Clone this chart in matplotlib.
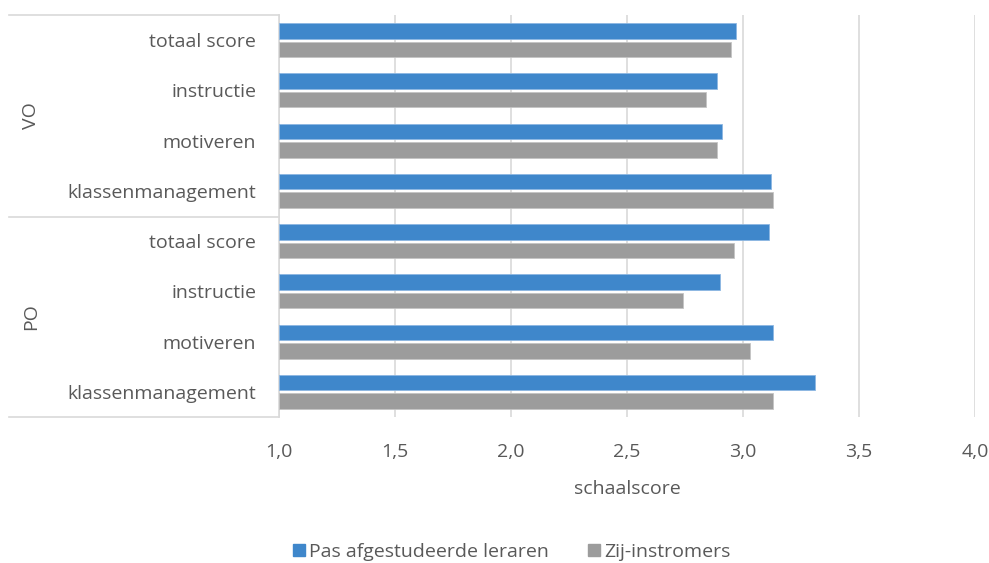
import matplotlib
matplotlib.use("Agg")
import matplotlib.pyplot as plt
from matplotlib.patches import Patch
from matplotlib.lines import Line2D

plt.rcParams['font.family'] = ['Open Sans', 'DejaVu Sans']

groups = ["VO", "PO"]
categories = ["totaal score", "instructie", "motiveren", "klassenmanagement"]
series_names = ["Pas afgestudeerde leraren", "Zij-instromers"]
# order: VO (totaal, instructie, motiveren, klassenmanagement), PO (same)
pas_afgestudeerd = [2.97, 2.89, 2.91, 3.12, 3.11, 2.90, 3.13, 3.31]
zij_instromers = [2.95, 2.84, 2.89, 3.13, 2.96, 2.74, 3.03, 3.13]
xticks = [1.0, 1.5, 2.0, 2.5, 3.0, 3.5, 4.0]
xtick_labels = ["1,0", "1,5", "2,0", "2,5", "3,0", "3,5", "4,0"]

W, H = 989, 563
fig = plt.figure(figsize=(W / 100, H / 100), dpi=100)
L, R, T, B = 279, 975, 15, 417
ax = fig.add_axes([L / W, 1 - B / H, (R - L) / W, (B - T) / H])

blue = "#3F87CB"
gray = "#9C9C9C"
txt = "#595959"
grid = "#D9D9D9"
fs = 14

n = len(pas_afgestudeerd)
centers = [i + 0.5 for i in range(n)]
bh = 0.31
off = 0.185
base = 1.0
ax.barh([c - off for c in centers], [v - base for v in pas_afgestudeerd], left=base,
        height=bh, color=blue, edgecolor="#8DB7E2", linewidth=0.6, zorder=3)
ax.barh([c + off for c in centers], [v - base for v in zij_instromers], left=base,
        height=bh, color=gray, edgecolor="#C4C4C4", linewidth=0.6, zorder=3)

ax.set_xlim(1.0, 4.0)
ax.set_ylim(n, 0)
ax.set_xticks(xticks)
ax.set_xticklabels(xtick_labels)
ax.xaxis.grid(True, color=grid, linewidth=1.2, zorder=0)
ax.set_axisbelow(True)
ax.tick_params(axis='x', length=0, pad=18.5, labelsize=fs, labelcolor=txt)
ax.set_yticks(centers)
ax.set_yticklabels(categories * len(groups))
ax.tick_params(axis='y', length=0, pad=16.5, labelsize=fs, labelcolor=txt)
for s in ["top", "right", "bottom"]:
    ax.spines[s].set_visible(False)
ax.spines["left"].set_color(grid)
ax.spines["left"].set_linewidth(1.2)

ax.set_xlabel("schaalscore", fontsize=fs, color=txt, labelpad=14)

def fx(px):
    return px / W

def fy(py):
    return 1 - py / H

for ypx in [15, 216.5, 417]:
    fig.add_artist(Line2D([fx(9), fx(279)], [fy(ypx), fy(ypx)], color=grid, linewidth=1.2))
ng = len(categories)
for gi, g in enumerate(groups):
    y0 = T + (B - T) * gi * ng / n
    y1 = T + (B - T) * (gi + 1) * ng / n
    fig.text(fx(31), fy((y0 + y1) / 2), g, rotation=90, ha="center", va="center",
             fontsize=fs, color=txt)

handles = [Patch(facecolor=blue, edgecolor=blue), Patch(facecolor=gray, edgecolor=gray)]
fig.legend(handles, series_names, loc="center", bbox_to_anchor=(fx(512), fy(552)),
           ncol=2, frameon=False, fontsize=fs, labelcolor=txt, handlelength=0.6,
           handleheight=0.6, handletextpad=0.25, columnspacing=2.0)

fig.savefig("out.png", dpi=100)
